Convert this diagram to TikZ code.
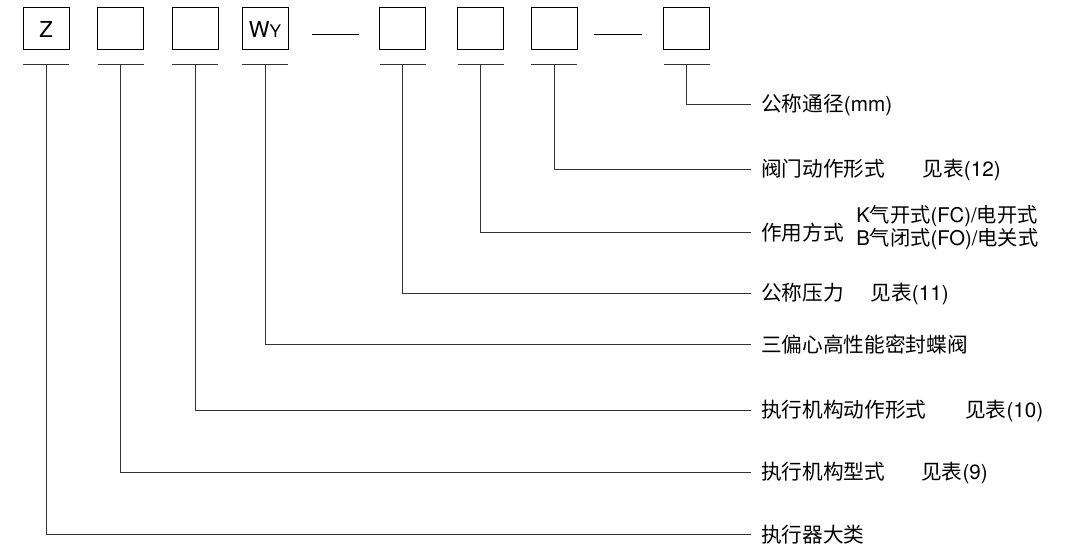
\documentclass[tikz,border=0pt]{standalone}
\usepackage{fontspec}
\setmainfont{TeX Gyre Heros}
\newfontfamily\zhfont{Noto Sans CJK SC}
\newcommand{\zh}[1]{{\zhfont #1}}

\begin{document}
\begin{tikzpicture}[x=0.75pt,y=0.75pt,yscale=-1,xscale=1,
  codebox/.style={draw, line width=0.75pt, minimum width=34.5pt, minimum height=31.5pt, inner sep=0pt, font=\fontsize{16.5}{18}\selectfont},
  lbl/.style={anchor=west, inner xsep=7.5pt, inner ysep=0pt, font=\fontsize{15.5}{18}\selectfont},
  lead/.style={line width=0.75pt, color=black!80}]
\useasboundingbox (0,0) rectangle (1071,548);

%Shape: Square [code boxes]
\node[codebox] (c1) at (46,29) {Z};
\node[codebox] (c2) at (120.5,29) {};
\node[codebox] (c3) at (195,29) {};
\node[codebox] (c4) at (265,29) {W{\fontsize{13}{14}\selectfont Y}};
\node[codebox] (c5) at (402.5,29) {};
\node[codebox] (c6) at (480.5,29) {};
\node[codebox] (c7) at (554,29) {};
\node[codebox] (c8) at (686.5,29) {};

%Straight Lines [separators]
\draw[line width=0.75pt] (312,35) -- (359,35);
\draw[line width=0.75pt] (594,35) -- (642,35);

% Text Node
\node[lbl] (lbl8) at (751,105) {\zh{公称通径}(mm)};
% Text Node
\node[lbl] (lbl7) at (751,170) {\zh{阀门动作形式}\hspace{28pt}\zh{见表}(12)};
% Text Node
\node[lbl] (lbl6) at (751,233) {\zh{作用方式}};
% Text Node
\node[anchor=west, inner sep=0pt, align=left, font=\fontsize{15.2}{12.75}\selectfont] (lbl6b) at (856,227.5) {K\zh{气开式}(FC)/\zh{电开式}\\B\zh{气闭式}(FO)/\zh{电关式}};
% Text Node
\node[lbl] (lbl5) at (751,294) {\zh{公称压力}\hspace{20pt}\zh{见表}(11)};
% Text Node
\node[lbl] (lbl4) at (751,345) {\zh{三偏心高性能密封蝶阀}};
% Text Node
\node[lbl] (lbl3) at (751,411) {\zh{执行机构动作形式}\hspace{29pt}\zh{见表}(10)};
% Text Node
\node[lbl] (lbl2) at (751,473) {\zh{执行机构型式}\hspace{27pt}\zh{见表}(9)};
% Text Node
\node[lbl] (lbl1) at (751,535) {\zh{执行器大类}};

%Straight Lines [bars and leaders]
\foreach \i in {1,...,8}{
  \path (c\i.south) ++(0,14) coordinate (t\i);
  \draw[lead] (t\i) ++(-23,0) -- ++(46,0);
  \draw[lead] (t\i) |- (lbl\i.west);
}

\end{tikzpicture}
\end{document}
